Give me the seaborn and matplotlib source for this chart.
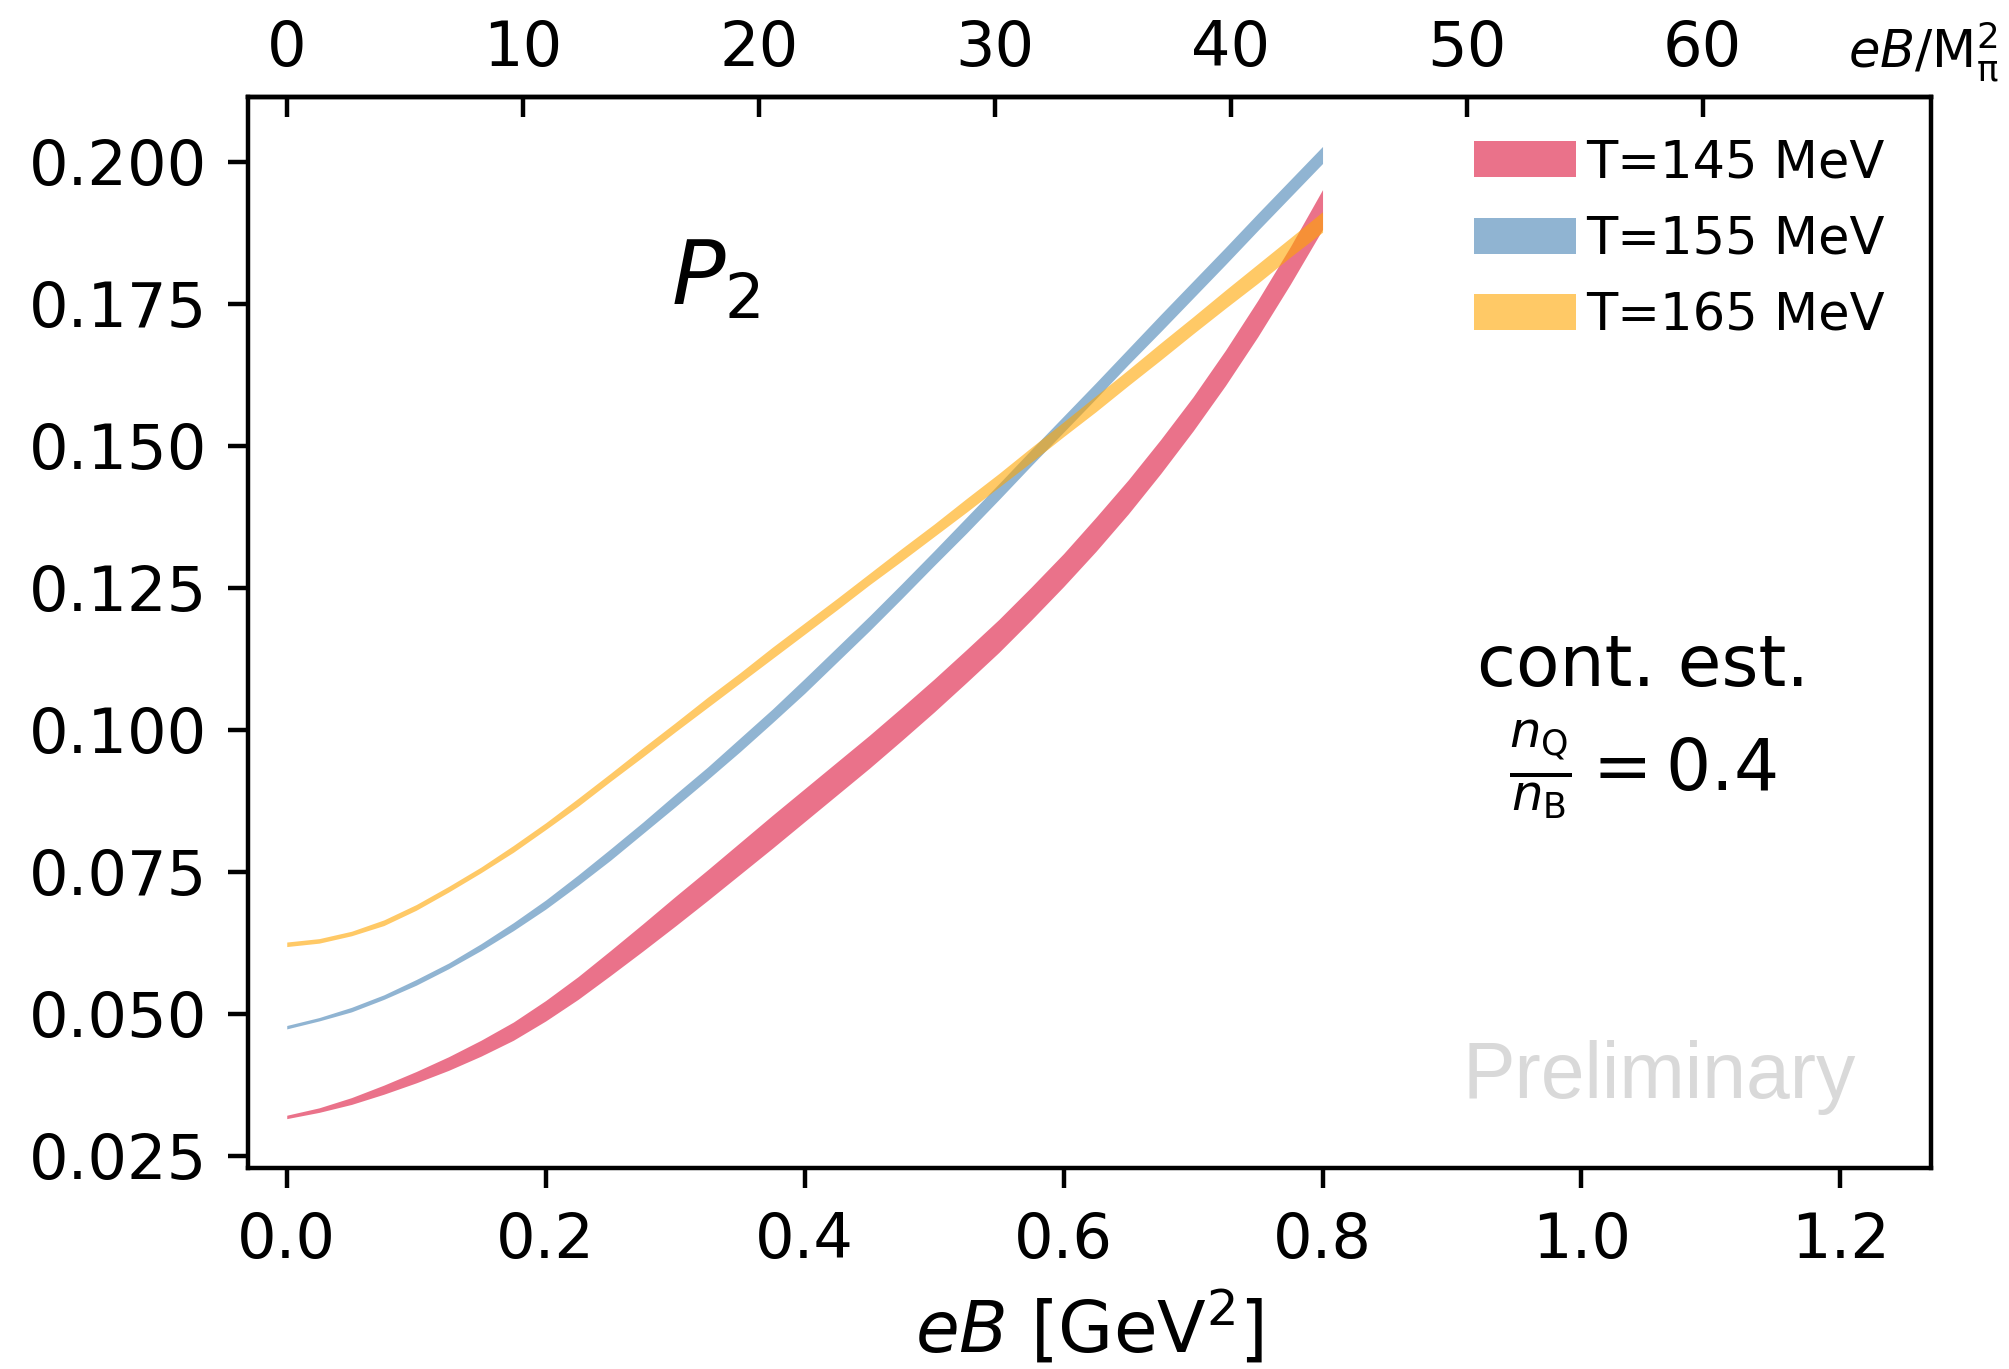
import matplotlib
matplotlib.use("Agg")
import matplotlib.pyplot as plt
import seaborn as sns
from matplotlib.ticker import FormatStrFormatter

# ---------------- data ----------------
eB = [0.000, 0.025, 0.050, 0.075, 0.100, 0.125, 0.150, 0.175, 0.200, 0.225, 0.250,
      0.275, 0.300, 0.325, 0.350, 0.375, 0.400, 0.425, 0.450, 0.475, 0.500, 0.525,
      0.550, 0.575, 0.600, 0.625, 0.650, 0.675, 0.700, 0.725, 0.750, 0.775, 0.800]

p2_T145_mid = [0.0318, 0.0330, 0.0346, 0.0366, 0.0388, 0.0412, 0.0439, 0.0469, 0.0505,
               0.0545, 0.0589, 0.0634, 0.0680, 0.0726, 0.0773, 0.0820, 0.0867, 0.0914,
               0.0961, 0.1010, 0.1060, 0.1112, 0.1165, 0.1222, 0.1281, 0.1344, 0.1410,
               0.1481, 0.1556, 0.1637, 0.1724, 0.1817, 0.1916]
p2_T145_err = [0.0003, 0.0004, 0.0006, 0.0008, 0.0010, 0.0012, 0.0014, 0.0016, 0.0018,
               0.0020, 0.0022, 0.0024, 0.0026, 0.0027, 0.0028, 0.0029, 0.0029, 0.0029,
               0.0029, 0.0029, 0.0029, 0.0029, 0.0029, 0.0029, 0.0029, 0.0030, 0.0030,
               0.0030, 0.0030, 0.0031, 0.0032, 0.0033, 0.0035]

p2_T155_mid = [0.0476, 0.0490, 0.0507, 0.0529, 0.0555, 0.0584, 0.0617, 0.0653, 0.0692,
               0.0735, 0.0780, 0.0827, 0.0875, 0.0923, 0.0973, 0.1024, 0.1077, 0.1132,
               0.1187, 0.1244, 0.1302, 0.1360, 0.1419, 0.1479, 0.1538, 0.1597, 0.1657,
               0.1716, 0.1775, 0.1834, 0.1894, 0.1953, 0.2012]
p2_T155_err = [0.0003, 0.0003, 0.0004, 0.0004, 0.0005, 0.0005, 0.0006, 0.0007, 0.0008,
               0.0009, 0.0010, 0.0010, 0.0011, 0.0011, 0.0012, 0.0012, 0.0013, 0.0013,
               0.0013, 0.0013, 0.0013, 0.0014, 0.0014, 0.0014, 0.0014, 0.0014, 0.0014,
               0.0015, 0.0015, 0.0015, 0.0015, 0.0015, 0.0015]

p2_T165_mid = [0.0622, 0.0628, 0.0641, 0.0660, 0.0687, 0.0719, 0.0753, 0.0790, 0.0830,
               0.0872, 0.0916, 0.0960, 0.1004, 0.1048, 0.1091, 0.1135, 0.1178, 0.1221,
               0.1265, 0.1308, 0.1351, 0.1395, 0.1439, 0.1484, 0.1529, 0.1574, 0.1620,
               0.1666, 0.1712, 0.1758, 0.1803, 0.1849, 0.1894]
p2_T165_err = [0.0004, 0.0004, 0.0004, 0.0005, 0.0005, 0.0005, 0.0005, 0.0006, 0.0006,
               0.0007, 0.0007, 0.0008, 0.0008, 0.0009, 0.0009, 0.0010, 0.0010, 0.0010,
               0.0010, 0.0011, 0.0011, 0.0012, 0.0012, 0.0013, 0.0013, 0.0014, 0.0014,
               0.0015, 0.0015, 0.0016, 0.0017, 0.0017, 0.0018]

series_labels = ["T=145 MeV", "T=155 MeV", "T=165 MeV"]
band_colors = ["crimson", "steelblue", "orange"]

xticks_bottom = [0.0, 0.2, 0.4, 0.6, 0.8, 1.0, 1.2]
xticks_top = [0, 10, 20, 30, 40, 50, 60]
yticks = [0.025, 0.050, 0.075, 0.100, 0.125, 0.150, 0.175, 0.200]
M_pi = 0.135  # GeV

# ---------------- style ----------------
sns.set_theme(style="ticks")
plt.rcParams["font.family"] = ["DejaVu Sans"]
plt.rcParams["mathtext.fontset"] = "dejavusans"
for k in ["axes.edgecolor", "text.color", "axes.labelcolor", "xtick.color", "ytick.color"]:
    plt.rcParams[k] = "black"

DPI = 320
fig = plt.figure(figsize=(2009 / DPI, 1369 / DPI), dpi=DPI)
ax = fig.add_axes([0.1234, 0.1468, 0.8378, 0.7823])

mids = [p2_T145_mid, p2_T155_mid, p2_T165_mid]
errs = [p2_T145_err, p2_T155_err, p2_T165_err]
for mid, err, lab, col in zip(mids, errs, series_labels, band_colors):
    lo = [m - e for m, e in zip(mid, err)]
    hi = [m + e for m, e in zip(mid, err)]
    ax.fill_between(eB, lo, hi, color=col, alpha=0.6, lw=0, label=lab)

ax.set_xlim(-0.03, 1.27)
ax.set_ylim(0.0228, 0.2114)
ax.set_xticks(xticks_bottom)
ax.set_yticks(yticks)
ax.yaxis.set_major_formatter(FormatStrFormatter("%.3f"))
ax.xaxis.set_major_formatter(FormatStrFormatter("%.1f"))

for s in ax.spines.values():
    s.set_linewidth(1.0)
ax.tick_params(axis="x", direction="out", length=4.5, width=1.0, pad=5.2, labelsize=14)
ax.tick_params(axis="y", direction="out", length=4.5, width=1.0, pad=4.7, labelsize=14)

ax.set_xlabel(r"$eB$ [GeV$^2$]", fontsize=16, labelpad=4)

secax = ax.secondary_xaxis("top", functions=(lambda x: x / M_pi**2, lambda x: x * M_pi**2))
secax.set_xticks(xticks_top)
secax.tick_params(direction="in", length=4.5, width=1.0, pad=4.1, labelsize=14)
secax.spines["top"].set_linewidth(1.0)

ax.text(1.0404, 1.027, r"$eB/\mathrm{M}_{\mathrm{π}}^{2}$", transform=ax.transAxes,
        ha="right", va="baseline", fontsize=11.5)

ax.text(0.297, 0.1749, r"$P_2$", fontsize=20, ha="left", va="baseline")

ax.text(0.829, 0.450, "cont. est.", transform=ax.transAxes, ha="center",
        va="baseline", fontsize=16)
ax.text(0.829, 0.352, r"$\frac{n_\mathrm{Q}}{n_\mathrm{B}} = 0.4$", transform=ax.transAxes,
        ha="center", va="baseline", fontsize=16)

ax.text(0.9555, 0.0654, "Preliminary", transform=ax.transAxes, ha="right",
        va="baseline", fontsize=17.7, color="#d9d9d9", family=["Liberation Sans", "DejaVu Sans"])

ax.legend(loc="upper right", bbox_to_anchor=(1.0, 1.0047), frameon=False, fontsize=11.5,
          handletextpad=0.2, labelspacing=0.52)

fig.savefig("out.png", dpi=DPI)
